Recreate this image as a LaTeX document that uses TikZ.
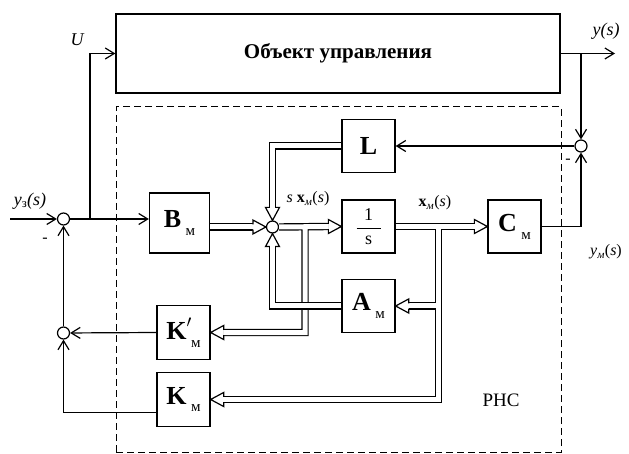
\documentclass[tikz,border=0pt]{standalone}
\usepackage{fontspec}
\setmainfont{Liberation Serif}
\usetikzlibrary{positioning,arrows.meta}
\newcommand{\msub}[1]{\,\raisebox{-0.3em}{\fontsize{15}{15}\selectfont #1}}

\begin{document}
\begin{tikzpicture}[x=1pt,y=-1pt,line width=1.2pt,font=\fontsize{26}{30}\selectfont,
  blk/.style={draw,minimum width=53pt,minimum height=53pt,inner sep=0pt,line width=1.3pt},
  sumc/.style={draw,circle,minimum size=12pt,inner sep=0pt},
  sig/.style={-{Straight Barb[length=9pt,width=11pt]}},
  dbl/.style={double,double distance=5pt},
  vhd/.pic={
    \fill[white] (-13,-7) -- (0,0) -- (-13,7) -- cycle;
    \draw[line join=miter] (-13,-2.6) -- (-13,-7) -- (0,0) -- (-13,7) -- (-13,2.6);
  },
  lbl/.style={font=\fontsize{18}{20}\selectfont\itshape},
  sml/.style={font=\fontsize{16}{18}\selectfont}]
\useasboundingbox (0,0) rectangle (629,454);
\node[blk,minimum width=444pt,minimum height=79pt] (ob) at (338,53.5) {\fontsize{21}{24}\selectfont\bfseries Объект управления};
\node[draw,dashed,dash pattern=on 7pt off 4pt,line width=1pt,minimum width=445pt,minimum height=345pt] (rn) at (338.5,279.5) {};
\node[blk] (in) at (368.5,226.5) {\fontsize{18}{20}\selectfont$\displaystyle\frac{\makebox[24pt]{1}}{\makebox[24pt]{s}}$};
\node[blk] (l) at (368.5,146) {\textbf{L}};
\node[blk] (a) at (368.5,306) {\textbf{A}\msub{м}};
\node[blk] (c) at (514.5,226.5) {\textbf{C}\msub{м}};
\node[blk,minimum width=60pt,minimum height=60pt] (b) at (179.5,223) {\textbf{B}\msub{м}};
\node[blk,minimum height=54pt] (kp) at (183.5,332.5) {\textbf{K}\rlap{\raisebox{0.1em}{$'$}}\msub{м}};
\node[blk,minimum height=54pt] (k) at (183.5,399.5) {\textbf{K}\msub{м}};
\node[sumc] (s1) at (63.5,219) {};
\node[sumc] (s2) at (63.5,333) {};
\node[sumc] (sc) at (272.5,227) {};
\node[sumc] (sy) at (581,146) {};
\coordinate (yin) at (10,219);
\coordinate (yout) at (615,53.5);
\coordinate (u) at (90,219);
\coordinate (br1) at (305,227);
\coordinate (br2) at (438.5,226.5);
% single lines
\draw[sig] (yin) -- (s1);
\draw[sig] (s1) -- (b.west |- s1);
\draw[sig] (u) |- (ob.west);
\draw[sig] (ob.east) -- (yout);
\draw[sig] (ob.east -| sy) -- (sy);
\draw[sig] (c.east) -| (sy);
\draw[sig] (sy) -- (l.east);
\draw[sig] (kp.west) -- (s2);
\draw[sig] (s2) -- (s1);
\draw[sig] ([yshift=-13pt]k.west) -| (s2);
% vector lines
\draw[dbl] (b.east |- sc) -- ([xshift=-13pt]sc.west);
\draw[dbl] (l.west) -| ([yshift=13pt]sc.north);
\draw[dbl] (sc.east) -- ([xshift=-13pt]in.west) (br1) |- ([xshift=13pt]kp.east);
\draw[dbl] (a.west) -| ([yshift=-13pt]sc.south);
\draw[dbl] (in.east) -- ([xshift=-13pt]c.west) (br2 |- a) -- ([xshift=13pt]a.east) (br2) |- ([xshift=13pt]k.east);
\pic at (sc.west) {vhd};
\pic[rotate=-90] at (sc.north) {vhd};
\pic[rotate=90] at (sc.south) {vhd};
\pic at (in.west) {vhd};
\pic at (c.west) {vhd};
\pic[rotate=180] at (kp.east) {vhd};
\pic[rotate=180] at (a.east) {vhd};
\pic[rotate=180] at (k.east) {vhd};
% labels
\node[lbl] (lu) at (77,40) {U};
\node[lbl] (ly) at (606,31) {y(s)};
\node[lbl] (lz) at (30,201) {y\textsubscript{\upshape з}(s)};
\node[sml] (m1) at (45,240) {-};
\node[sml] (m2) at (568,161) {-};
\node[sml] (lsx) at (308,199) {\textit{s} \textbf{x}\textsubscript{\textit{м}}(\textit{s})};
\node[sml] (lx) at (435,203) {\textbf{x}\textsubscript{\textit{м}}(\textit{s})};
\node[sml] (lym) at (606,252) {\textit{y}\textsubscript{\textit{м}}(\textit{s})};
\node[font=\fontsize{19}{22}\selectfont] (lr) at (501,400) {РНС};
\end{tikzpicture}
\end{document}
